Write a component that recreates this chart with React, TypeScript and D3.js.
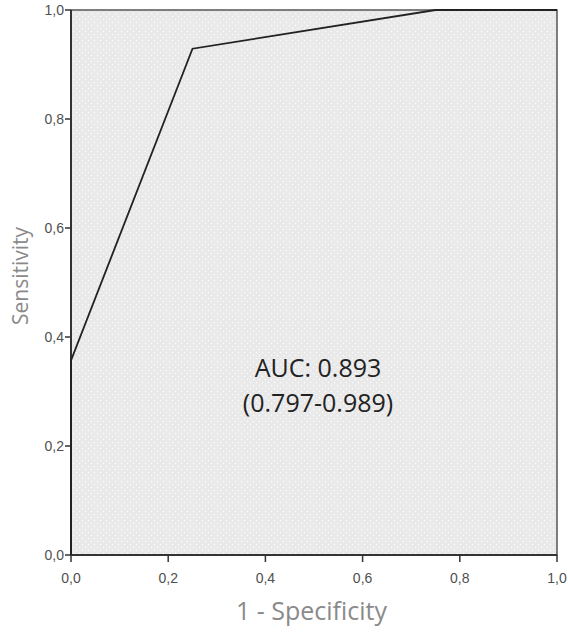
import React from "react";
import * as d3 from "d3";

const fpr = [0, 0, 0.25, 0.75, 1];
const tpr = [0, 0.357, 0.929, 1, 1];
const tickValues = [0, 0.2, 0.4, 0.6, 0.8, 1.0];
const xTitle = "1 - Specificity";
const yTitle = "Sensitivity";
const aucLines = ["AUC: 0.893", "(0.797-0.989)"];

export default function App() {
  const W = 568, H = 632;
  const left = 71, right = 557, top = 10, bottom = 555;
  const x = d3.scaleLinear().domain([0, 1]).range([left, right]);
  const y = d3.scaleLinear().domain([0, 1]).range([bottom, top]);
  const pts = fpr.map((f, i) => [f, tpr[i]] as [number, number]);
  const line = d3.line<[number, number]>().x(d => x(d[0])).y(d => y(d[1]));
  const fmt = (v: number) => d3.format(".1f")(v).replace(".", ",");
  const font = "'Open Sans', 'DejaVu Sans', sans-serif";
  const tickFont = "'Liberation Sans', Arial, sans-serif";
  return (
    <svg width={W} height={H} style={{ position: "absolute", left: 0, top: 0 }}>
      <defs>
        <pattern id="dots" width="6" height="6" patternUnits="userSpaceOnUse">
          <rect width="6" height="6" fill="#e9e9e9" />
          <circle cx="1.5" cy="1.5" r="0.7" fill="#ffffff" />
          <circle cx="4.5" cy="4.5" r="0.7" fill="#ffffff" />
        </pattern>
      </defs>
      <rect x={left} y={top} width={right - left} height={bottom - top} fill="url(#dots)" stroke="#555" strokeWidth={1.5} />
      <line x1={left} x2={left} y1={top} y2={bottom} stroke="#333" strokeWidth={2} />
      <line x1={left} x2={right} y1={bottom} y2={bottom} stroke="#333" strokeWidth={2} />
      {tickValues.map(v => (
        <g key={"y" + v}>
          <line x1={left - 6} x2={left} y1={y(v)} y2={y(v)} stroke="#333" strokeWidth={1.5} />
          <text x={left - 7} y={y(v)} dy="0.36em" textAnchor="end" fontSize={14} fill="#505050" fontFamily={tickFont}>{fmt(v)}</text>
        </g>
      ))}
      {tickValues.map(v => (
        <g key={"x" + v}>
          <line x1={x(v)} x2={x(v)} y1={bottom} y2={bottom + 7} stroke="#333" strokeWidth={1.5} />
          <text x={x(v)} y={bottom + 28} textAnchor="middle" fontSize={14} fill="#505050" fontFamily={tickFont}>{fmt(v)}</text>
        </g>
      ))}
      <path d={line(pts) || ""} fill="none" stroke="#222" strokeWidth={1.8} />
      {aucLines.map((t, i) => (
        <text key={t} x={318} y={377 + i * 35} textAnchor="middle" fontSize={25} fill="#222" fontFamily={font}>{t}</text>
      ))}
      <text x={311.5} y={620} textAnchor="middle" fontSize={25} fill="#8a8a8a" fontFamily={font}>{xTitle}</text>
      <text transform={`translate(28,276) rotate(-90)`} textAnchor="middle" fontSize={21} fill="#8a8a8a" fontFamily={font}>{yTitle}</text>
    </svg>
  );
}
